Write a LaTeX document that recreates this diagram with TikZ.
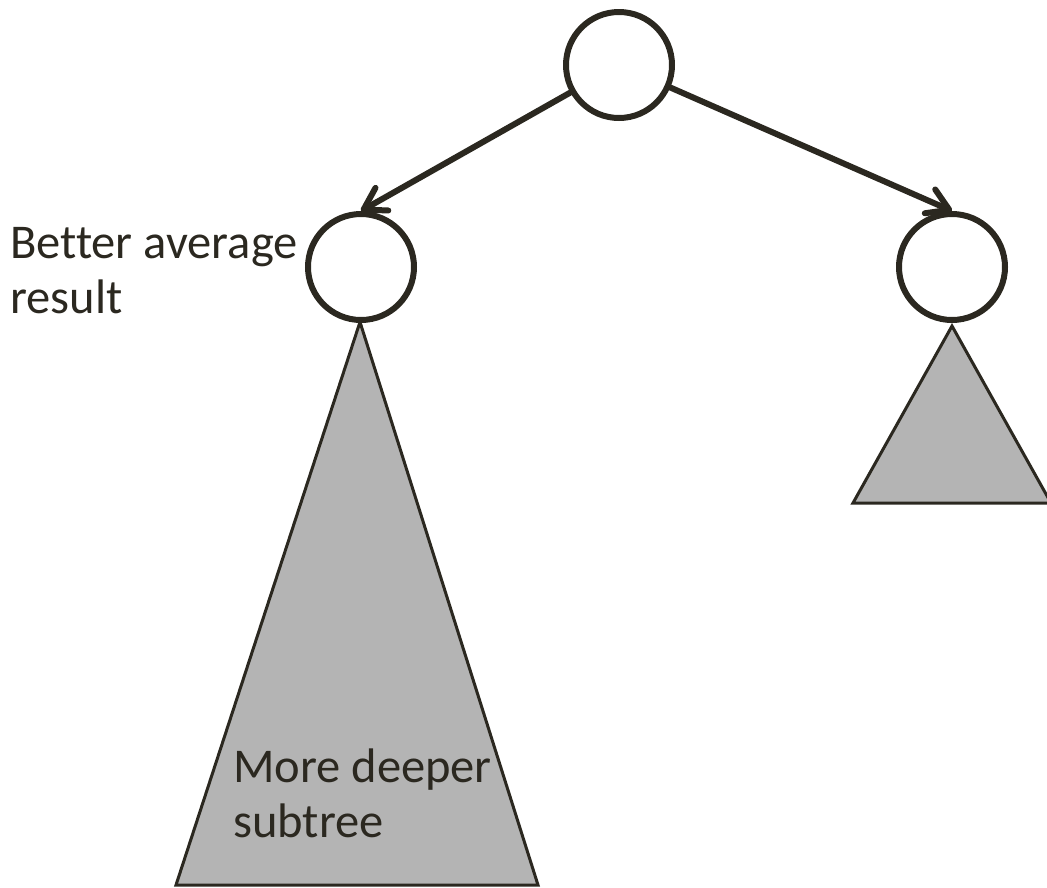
\documentclass[tikz,border=0pt]{standalone}
\usepackage{fontspec}
\setmainfont[Ligatures=NoCommon]{Carlito}
\usetikzlibrary{arrows.meta}
\definecolor{ink}{HTML}{2B2820}
\definecolor{tri}{HTML}{B4B4B4}
\tikzset{
  treenode/.style={circle, draw=ink, line width=6pt, minimum size=106pt, inner sep=0pt, fill=white},
  edge/.style={draw=ink, line width=6pt, line cap=round, -{Straight Barb[length=21pt, width=26pt, line width=6pt, round]}},
  subtree/.style={draw=ink, line width=3pt, fill=tri, line join=miter},
  lbl/.style={text=ink, font=\fontsize{48.5}{55}\selectfont, align=left, inner sep=0pt}
}
\begin{document}
\begin{tikzpicture}[x=1pt,y=-1pt]
\useasboundingbox (0,0) rectangle (1047,887);
\begin{scope}
\clip (0,0) rectangle (1047,887);
\coordinate (ltop) at (360,322);
\coordinate (lbl) at (176,885);
\coordinate (lbr) at (538,885);
\coordinate (rtop) at (952,326);
\coordinate (rbl) at (853,503);
\coordinate (rbr) at (1051,503);
\path[subtree] (ltop) -- (lbr) -- (lbl) -- cycle;
\path[subtree] (rtop) -- (rbr) -- (rbl) -- cycle;
\node[treenode] (r) at (619,65) {};
\node[treenode] (a) at (361,267) {};
\node[treenode] (b) at (952,267) {};
\draw[edge] (r) -- (a.north);
\draw[edge] (r) -- (b.north);
\node[lbl, anchor=base west] (t1) at (10,313) {Better average\\result};
\node[lbl, anchor=base west] (t2) at (233,837) {More deeper\\subtree};
\end{scope}
\end{tikzpicture}
\end{document}
